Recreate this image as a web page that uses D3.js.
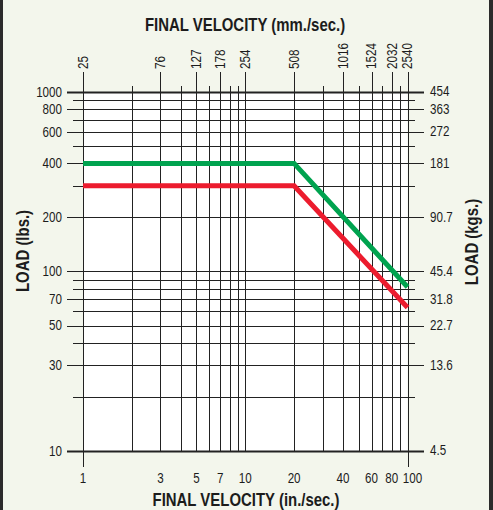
<!DOCTYPE html>
<html>
<head>
    <meta charset="UTF-8" />
    <style>
        body { margin: 0; background: #f3f6ec; }
        svg { display: block; }
        text {
            font-family: "Liberation Sans", Arial, sans-serif;
            fill: #1c1c1c;
        }
        .tick text { font-size: 14px; }
        .title { font-size: 18px; font-weight: bold; text-anchor: middle; }
    </style>
    <script src="https://d3js.org/d3.v7.min.js"></script>
</head>
<body>
    <svg width="493" height="510"></svg>
    <script>
        // labelled velocities (in./sec.) and the matching mm./sec. labels on top
        var velIn = [1, 3, 5, 7, 10, 20, 40, 60, 80, 100];
        var velMm = ["25", "76", "127", "178", "254", "508", "1016", "1524", "2032", "2540"];

        // labelled loads (lbs.) and matching kgs. labels on the right
        var loadLbs = [1000, 800, 600, 400, 200, 100, 70, 50, 30, 10];
        var loadKg = ["454", "363", "272", "181", "90.7", "45.4", "31.8", "22.7", "13.6", "4.5"];

        // the two curves
        var velocity = [1, 20, 100];
        var greenLoad = [400, 400, 82];
        var redLoad = [300, 300, 63];

        var svg = d3.select("svg"),
            width = +svg.attr("width"),
            height = +svg.attr("height");

        var plotL = 83, plotR = 407.5, plotT = 92, plotB = 451;
        var squeeze = 0.83;   // condensed look of the original lettering

        var x = d3.scaleLog().domain([1, 100]).range([plotL, plotR]);
        var y = d3.scaleLog().domain([10, 1000]).range([plotB, plotT]);

        var px = function(v) { return Math.round(v) + 0.5; };
        var place = function(tx, ty, rot) {
            return "translate(" + tx + "," + ty + ")" + (rot ? " rotate(" + rot + ")" : "") + " scale(" + squeeze + ",1)";
        };

        // frame sides
        svg.append("rect").attr("x", 0).attr("y", 0).attr("width", width).attr("height", height)
           .attr("fill", "#f3f6ec");
        svg.append("rect").attr("x", 0).attr("y", 0).attr("width", 3).attr("height", height).attr("fill", "#2b2b2b");
        svg.append("rect").attr("x", width - 4).attr("y", 0).attr("width", 4).attr("height", height).attr("fill", "#2b2b2b");

        // plot area
        svg.append("rect").attr("x", plotL).attr("y", plotT)
           .attr("width", plotR - plotL).attr("height", plotB - plotT)
           .attr("fill", "#fff");

        var xGrid = x.ticks();   // 1..10, 20..100
        var yGrid = y.ticks();   // 10..100, 200..1000

        var grid = svg.append("g");

        // vertical grid lines, extended above the plot
        grid.selectAll(".vx").data(xGrid).enter().append("line")
            .attr("x1", function(d) { return px(x(d)); })
            .attr("x2", function(d) { return px(x(d)); })
            .attr("y1", function(d) { return velIn.indexOf(d) >= 0 ? 72 : 86; })
            .attr("y2", function(d) { return (d === 1 || d === 100) ? 467 : plotB; })
            .attr("stroke", "#222").attr("stroke-width", 1);

        // horizontal grid lines, extended on both sides
        grid.selectAll(".hy").data(yGrid).enter().append("line")
            .attr("x1", function(d) { return loadLbs.indexOf(d) >= 0 ? 67 : 73; })
            .attr("x2", function(d) { return loadLbs.indexOf(d) >= 0 ? 424 : 415; })
            .attr("y1", function(d) { return px(y(d)); })
            .attr("y2", function(d) { return px(y(d)); })
            .attr("stroke", "#222")
            .attr("stroke-width", function(d) { return (d === 10 || d === 1000) ? 2 : 1; });

        // curves
        var line = d3.line()
            .x(function(d) { return x(d[0]); })
            .y(function(d) { return y(d[1]); });

        svg.append("path")
           .datum(d3.zip(velocity, greenLoad))
           .attr("d", line)
           .attr("fill", "none").attr("stroke", "#00a34f").attr("stroke-width", 5);

        svg.append("path")
           .datum(d3.zip(velocity, redLoad))
           .attr("d", line)
           .attr("fill", "none").attr("stroke", "#ec1c2e").attr("stroke-width", 5);

        var lbl = svg.append("g").attr("class", "tick");

        // left labels
        lbl.selectAll(".ly").data(loadLbs).enter().append("text")
           .attr("transform", function(d) { return place(62, y(d)); })
           .attr("dy", "0.35em").attr("text-anchor", "end")
           .text(function(d) { return d; });

        // right labels
        lbl.selectAll(".ry").data(loadKg).enter().append("text")
           .attr("transform", function(d, i) { return place(430, y(loadLbs[i])); })
           .attr("dy", "0.3em").attr("text-anchor", "start")
           .text(function(d) { return d; });

        // bottom labels (the last one sits a little right of its line)
        lbl.selectAll(".bx").data(velIn).enter().append("text")
           .attr("transform", function(d) { return place(x(d) + (d === 100 ? 5 : 0), 483); })
           .attr("text-anchor", "middle")
           .text(function(d) { return d; });

        // top labels, rotated
        lbl.selectAll(".tx").data(velMm).enter().append("text")
           .attr("transform", function(d, i) { return place(x(velIn[i]), 69, -90); })
           .attr("dy", "0.35em").attr("text-anchor", "start")
           .text(function(d) { return d; });

        // titles
        svg.append("text").attr("class", "title")
           .attr("transform", place(245, 31))
           .text("FINAL VELOCITY (mm./sec.)");

        svg.append("text").attr("class", "title")
           .attr("transform", place(246, 506))
           .text("FINAL VELOCITY (in./sec.)");

        svg.append("text").attr("class", "title")
           .attr("transform", place(29, 251, -90))
           .text("LOAD (lbs.)");

        svg.append("text").attr("class", "title")
           .attr("transform", place(478, 242, -90))
           .text("LOAD (kgs.)");
    </script>
</body>
</html>
